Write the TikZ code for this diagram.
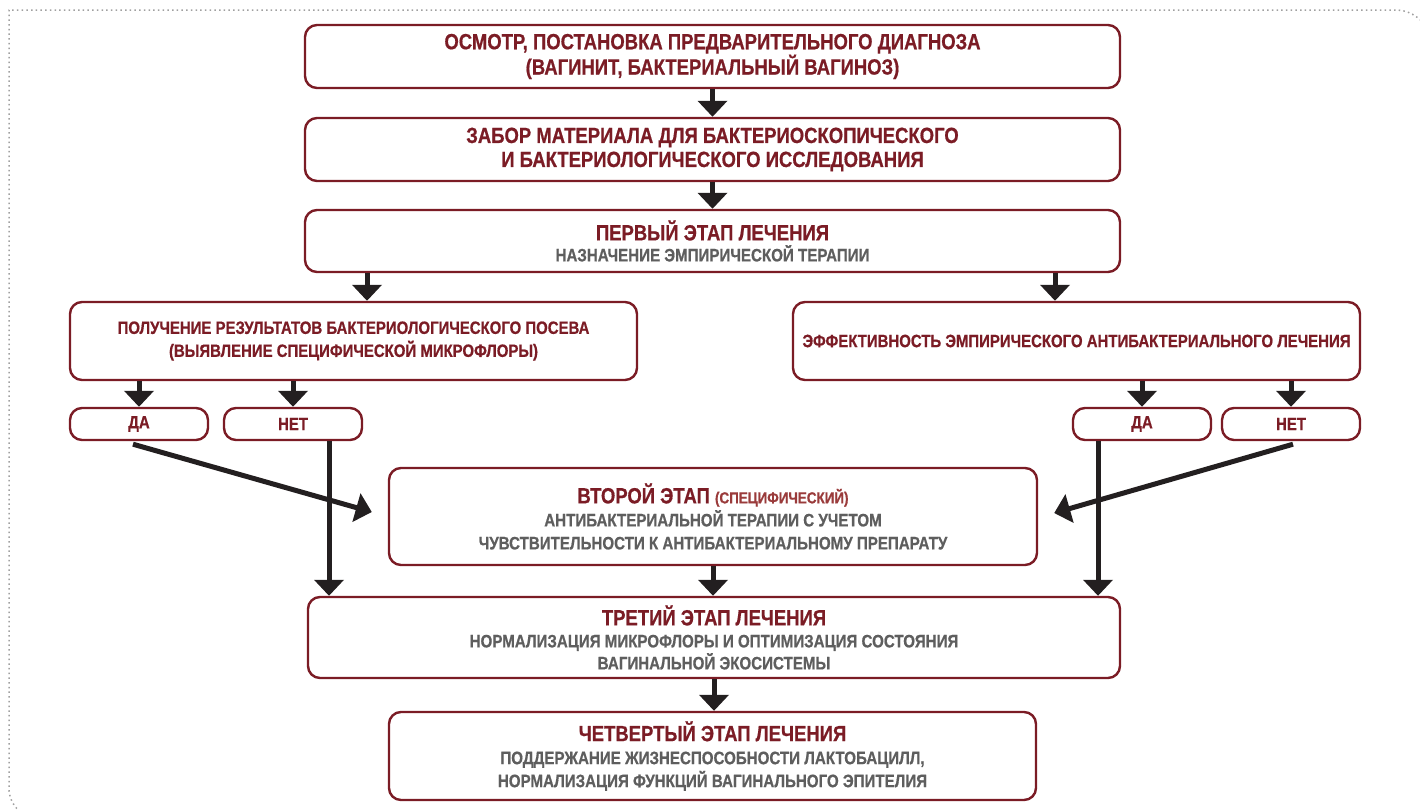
\documentclass[tikz,border=0pt]{standalone}
\usepackage{fontspec}
\usetikzlibrary{arrows.meta}
\newfontfamily\cond{Liberation Sans}[FakeStretch=0.84, BoldFeatures={FakeBold=0.6}]
\definecolor{dred}{HTML}{7B1C25}
\definecolor{sgray}{HTML}{5E5E5E}
\definecolor{lred}{HTML}{9A3B3B}
\definecolor{arrc}{HTML}{231F20}
\definecolor{framec}{HTML}{A0A0A0}
\newcommand{\tfont}{\cond\bfseries\fontsize{22}{24}\selectfont}
\newcommand{\sfnt}{\cond\bfseries\fontsize{18}{23}\selectfont\color{sgray}}
\newcommand{\mfont}{\cond\bfseries\fontsize{17.8}{23}\selectfont}
\begin{document}
\begin{tikzpicture}[x=1pt,y=-1pt,
  box/.style={draw=dred, line width=2.4pt, rounded corners=12pt, fill=white,
    align=center, inner sep=0pt, text=dred},
  arr/.style={draw=arrc, line width=5pt, -{Triangle[width=29pt,length=16pt]}},
  framepath/.style={draw=framec, line width=1.5pt, dash pattern=on 1.5pt off 3.2pt}
]
\useasboundingbox (0,0) rectangle (1420,809);
\begin{scope}
\clip (0,0) rectangle (1420,809);
\draw[framepath] (20,812) .. controls (13,805) and (9,798) .. (9,788) -- (9,10) -- (1395,10)
  .. controls (1408,10) and (1418,16) .. (1426,26);
\end{scope}

\node[box, minimum width=815pt, minimum height=63pt, font=\tfont] (b1) at (712.5,56.5)
  {ОСМОТР, ПОСТАНОВКА ПРЕДВАРИТЕЛЬНОГО ДИАГНОЗА\\(ВАГИНИТ, БАКТЕРИАЛЬНЫЙ ВАГИНОЗ)};
\node[box, minimum width=815pt, minimum height=63pt, font=\tfont] (b2) at (712.5,149.5)
  {ЗАБОР МАТЕРИАЛА ДЛЯ БАКТЕРИОСКОПИЧЕСКОГО\\И БАКТЕРИОЛОГИЧЕСКОГО ИССЛЕДОВАНИЯ};
\node[box, minimum width=815pt, minimum height=62pt, font=\tfont] (b3) at (712.5,241)
  {ПЕРВЫЙ ЭТАП ЛЕЧЕНИЯ\\[-3pt]{\sfnt НАЗНАЧЕНИЕ ЭМПИРИЧЕСКОЙ ТЕРАПИИ}};
\node[box, minimum width=567pt, minimum height=78pt, font=\mfont] (L) at (353.5,341)
  {ПОЛУЧЕНИЕ РЕЗУЛЬТАТОВ БАКТЕРИОЛОГИЧЕСКОГО ПОСЕВА\\(ВЫЯВЛЕНИЕ СПЕЦИФИЧЕСКОЙ МИКРОФЛОРЫ)};
\node[box, minimum width=567pt, minimum height=78pt, font=\mfont] (R) at (1076.5,341)
  {ЭФФЕКТИВНОСТЬ ЭМПИРИЧЕСКОГО АНТИБАКТЕРИАЛЬНОГО ЛЕЧЕНИЯ};
\node[box, minimum width=138pt, minimum height=32pt, font=\mfont] (daL) at (139,424) {ДА};
\node[box, minimum width=138pt, minimum height=32pt, font=\mfont] (netL) at (293,424) {НЕТ};
\node[box, minimum width=138pt, minimum height=32pt, font=\mfont] (daR) at (1142,424) {ДА};
\node[box, minimum width=138pt, minimum height=32pt, font=\mfont] (netR) at (1291,424) {НЕТ};
\node[box, minimum width=648pt, minimum height=97pt, font=\tfont] (s2) at (713,516.5)
  {ВТОРОЙ ЭТАП {\cond\bfseries\fontsize{16}{20}\selectfont\color{lred}(СПЕЦИФИЧЕСКИЙ)}\\[-1pt]
   {\sfnt АНТИБАКТЕРИАЛЬНОЙ ТЕРАПИИ С УЧЕТОМ}\\[-1pt]
   {\sfnt ЧУВСТВИТЕЛЬНОСТИ К АНТИБАКТЕРИАЛЬНОМУ ПРЕПАРАТУ}};
\node[box, minimum width=812pt, minimum height=81pt, font=\tfont] (s3) at (714,637.5)
  {ТРЕТИЙ ЭТАП ЛЕЧЕНИЯ\\[-2pt]
   {\sfnt НОРМАЛИЗАЦИЯ МИКРОФЛОРЫ И ОПТИМИЗАЦИЯ СОСТОЯНИЯ}\\[-2pt]
   {\sfnt ВАГИНАЛЬНОЙ ЭКОСИСТЕМЫ}};
\node[box, minimum width=647pt, minimum height=88pt, font=\tfont] (s4) at (712.5,756)
  {ЧЕТВЕРТЫЙ ЭТАП ЛЕЧЕНИЯ\\[-1pt]
   {\sfnt ПОДДЕРЖАНИЕ ЖИЗНЕСПОСОБНОСТИ ЛАКТОБАЦИЛЛ,}\\[-1pt]
   {\sfnt НОРМАЛИЗАЦИЯ ФУНКЦИЙ ВАГИНАЛЬНОГО ЭПИТЕЛИЯ}};

\draw[arr] (b1.south) -- (b2.north);
\draw[arr] (b2.south) -- (b3.north);
\draw[arr] ([xshift=13.5pt]L.north |- b3.south) -- ([xshift=13.5pt]L.north);
\draw[arr] ([xshift=-21.5pt]R.north |- b3.south) -- ([xshift=-21.5pt]R.north);
\draw[arr] (daL.north |- L.south) -- (daL.north);
\draw[arr] (netL.north |- L.south) -- (netL.north);
\draw[arr] (daR.north |- R.south) -- (daR.north);
\draw[arr] (netR.north |- R.south) -- (netR.north);
\draw[arr] ([xshift=-6pt,yshift=-3pt]daL.south) -- ([xshift=-16pt,yshift=4.5pt]s2.west);
\draw[arr] ([xshift=2pt,yshift=-3pt]netR.south) -- ([xshift=16pt,yshift=3.5pt]s2.east);
\draw[arr] ([xshift=36pt]netL.south) -- ([xshift=36pt]netL.south |- s3.north);
\draw[arr] ([xshift=-44pt]daR.south) -- ([xshift=-44pt]daR.south |- s3.north);
\draw[arr] (s2.south) -- (s2.south |- s3.north);
\draw[arr] (s3.south) -- (s3.south |- s4.north);
\end{tikzpicture}
\end{document}
